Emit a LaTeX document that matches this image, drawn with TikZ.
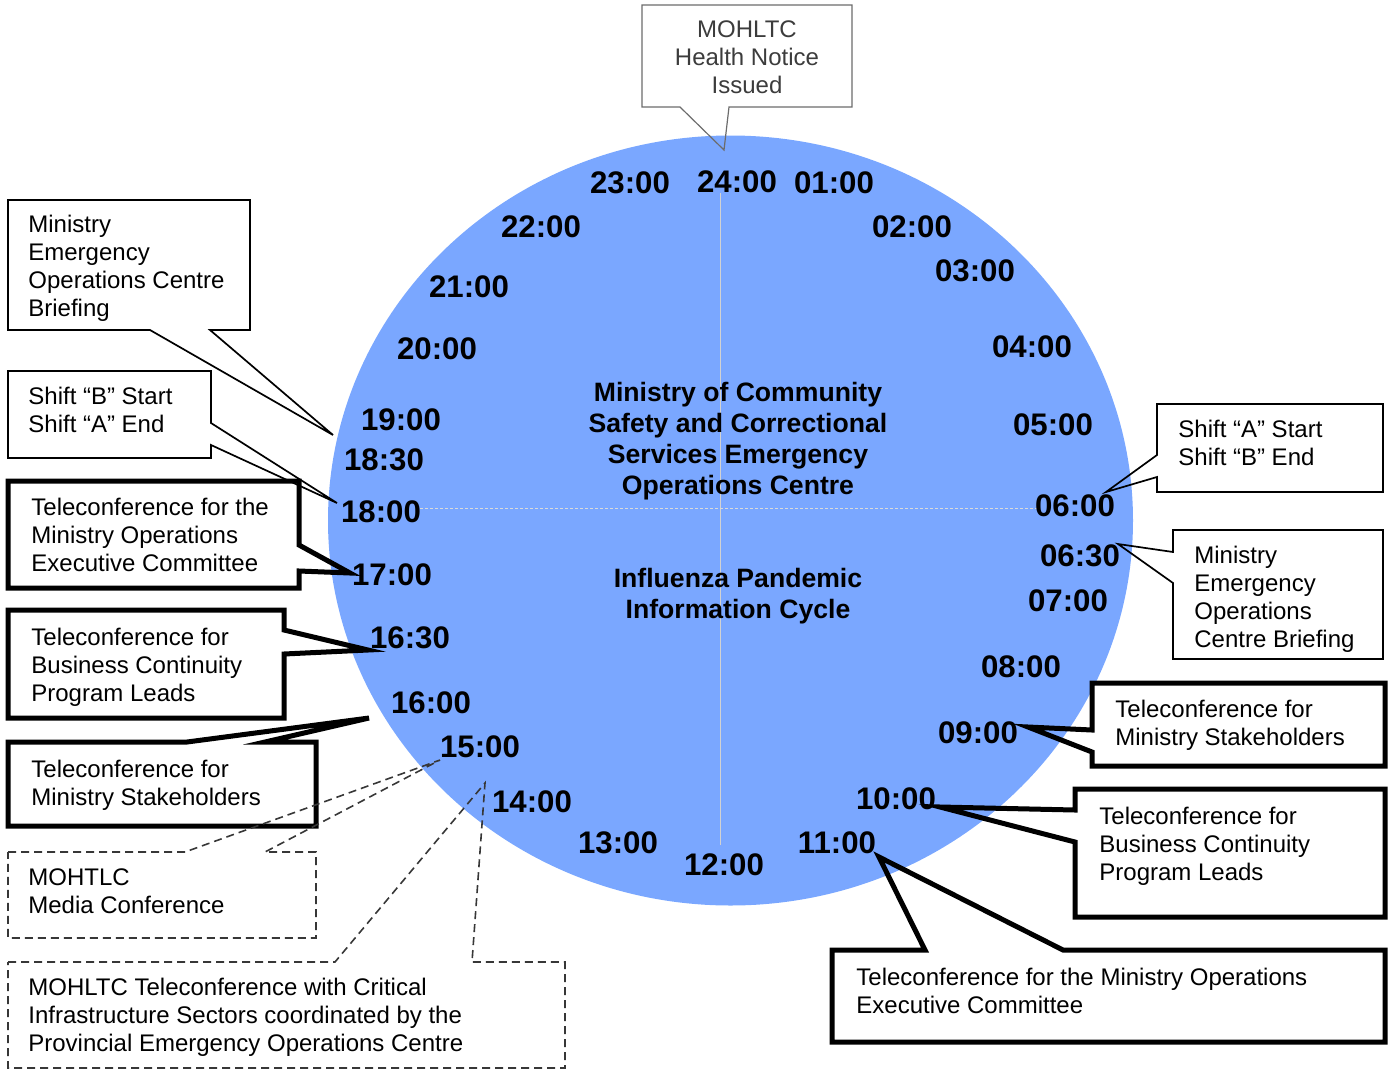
\documentclass[tikz,border=0pt]{standalone}
\usepackage{fontspec}
\setmainfont{Liberation Sans}
\definecolor{dialblue}{RGB}{122,167,255}
\definecolor{notegray}{RGB}{60,60,60}
\definecolor{dashgray}{RGB}{55,55,55}
\begin{document}
\begin{tikzpicture}[x=0.5pt,y=-0.5pt,
  thinbox/.style={draw=black,line width=0.85pt,line join=miter},
  thickbox/.style={draw=black,line width=2.5pt,line join=miter},
  dashbox/.style={draw=dashgray,line width=0.8pt,dash pattern=on 4pt off 2.5pt},
  greybox/.style={draw=gray!85!black,line width=0.6pt},
  txt/.style={font=\fontsize{12}{14}\selectfont,align=left,anchor=north west,inner sep=0pt},
  hour/.style={font=\fontsize{15.6}{18}\selectfont\bfseries,inner sep=0pt},
  title/.style={font=\fontsize{13.3}{15.5}\selectfont\bfseries,align=center,anchor=north,inner sep=0pt}]
\useasboundingbox (0,0) rectangle (1393,1072);
% dial
\fill[dialblue] (730.5,520.5) ellipse [x radius=402.5,y radius=385];
\draw[gray!35,line width=0.5pt] (720,193) -- (720,845);
\draw[gray!30,line width=0.5pt,dash pattern=on 1.5pt off 1pt] (420,508) -- (1040,508);
% centre titles
\node[title] (centre) at (738,374) {\rule{0pt}{13.3pt}Ministry of Community\\Safety and Correctional\\Services Emergency\\Operations Centre};
\node[title] (cycle) at (738,560) {\rule{0pt}{13.3pt}Influenza Pandemic\\Information Cycle};
% callouts
\draw[greybox] (642,5) -- (852,5) -- (852,107) -- (729,107) -- (724,150) -- (680,107) -- (642,107) -- cycle;
\node[txt,align=center,anchor=north,text=notegray] (notice) at (747,12.6) {\rule{0pt}{12pt}MOHLTC\\Health Notice\\Issued};
\draw[thinbox] (8,200) -- (250,200) -- (250,330) -- (210,330) -- (333,435) -- (150,330) -- (8,330) -- cycle;
\node[txt] (meocl) at (28,207.6) {\rule{0pt}{12pt}Ministry\\Emergency\\Operations Centre\\Briefing};
\draw[thinbox] (8,371) -- (211,371) -- (211,423) -- (337,503) -- (211,445) -- (211,458) -- (8,458) -- cycle;
\node[txt] (shiftb) at (28,379.6) {\rule{0pt}{12pt}Shift “B” Start\\Shift “A” End};
\draw[thickbox] (8,481) -- (299,481) -- (299,545) -- (350,573) -- (299,571) -- (299,588) -- (8,588) -- cycle;
\node[txt] (moecl) at (31,490.6) {\rule{0pt}{12pt}Teleconference for the\\Ministry Operations\\Executive Committee};
\draw[thickbox] (8,610) -- (284,610) -- (284,630) -- (368,650) -- (284,654) -- (284,718) -- (8,718) -- cycle;
\node[txt] (bcpll) at (31,620.6) {\rule{0pt}{12pt}Teleconference for\\Business Continuity\\Program Leads};
\draw[thickbox] (8,742) -- (187,742) -- (369,718) -- (265,742) -- (316,742) -- (316,826) -- (8,826) -- cycle;
\node[txt] (msl) at (31,752.6) {\rule{0pt}{12pt}Teleconference for\\Ministry Stakeholders};
\draw[dashbox] (8,852) -- (185,852) -- (440,760) -- (265,852) -- (316,852) -- (316,938) -- (8,938) -- cycle;
\node[txt] (media) at (28,860.6) {\rule{0pt}{12pt}MOHTLC\\Media Conference};
\draw[dashbox] (8,962) -- (335,962) -- (485,783) -- (472,962) -- (565,962) -- (565,1068) -- (8,1068) -- cycle;
\node[txt] (cis) at (28,970.6) {\rule{0pt}{12pt}MOHLTC Teleconference with Critical\\Infrastructure Sectors coordinated by the\\Provincial Emergency Operations Centre};
\draw[thinbox] (1157,404) -- (1383,404) -- (1383,492) -- (1157,492) -- (1157,477) -- (1106,492) -- (1157,455) -- cycle;
\node[txt] (shifta) at (1178,412.6) {\rule{0pt}{12pt}Shift “A” Start\\Shift “B” End};
\draw[thinbox] (1173,530) -- (1383,530) -- (1383,659) -- (1173,659) -- (1173,583) -- (1118,544) -- (1173,552) -- cycle;
\node[txt] (meocr) at (1194,538.6) {\rule{0pt}{12pt}Ministry\\Emergency\\Operations\\Centre Briefing};
\draw[thickbox] (1092,683) -- (1385,683) -- (1385,766) -- (1092,766) -- (1092,752) -- (1028,727) -- (1092,730) -- cycle;
\node[txt] (msr) at (1115,692.6) {\rule{0pt}{12pt}Teleconference for\\Ministry Stakeholders};
\draw[thickbox] (1075,789) -- (1385,789) -- (1385,917) -- (1075,917) -- (1075,842) -- (940,807) -- (1075,810) -- cycle;
\node[txt] (bcplr) at (1099,799.6) {\rule{0pt}{12pt}Teleconference for\\Business Continuity\\Program Leads};
\draw[thickbox] (832,950) -- (925,950) -- (879,857) -- (1063,950) -- (1385,950) -- (1385,1042) -- (832,1042) -- cycle;
\node[txt] (moecr) at (856,960.6) {\rule{0pt}{12pt}Teleconference for the Ministry Operations\\Executive Committee};
% hours
\node[hour] (h23) at (630,183) {23:00};
\node[hour] (h24) at (737,182) {24:00};
\node[hour] (h01) at (834,183) {01:00};
\node[hour] (h02) at (912,227) {02:00};
\node[hour] (h22) at (541,227) {22:00};
\node[hour] (h03) at (975,271) {03:00};
\node[hour] (h21) at (469,287) {21:00};
\node[hour] (h04) at (1032,347) {04:00};
\node[hour] (h20) at (437,349) {20:00};
\node[hour] (h19) at (401,420) {19:00};
\node[hour] (h05) at (1053,425) {05:00};
\node[hour] (h1830) at (384,460) {18:30};
\node[hour] (h18) at (381,512) {18:00};
\node[hour] (h06) at (1075,506) {06:00};
\node[hour] (h0630) at (1080,556) {06:30};
\node[hour] (h17) at (392,575) {17:00};
\node[hour] (h07) at (1068,601) {07:00};
\node[hour] (h1630) at (410,638) {16:30};
\node[hour] (h08) at (1021,667) {08:00};
\node[hour] (h16) at (431,703) {16:00};
\node[hour] (h09) at (978,733) {09:00};
\node[hour] (h15) at (480,747) {15:00};
\node[hour] (h14) at (532,802) {14:00};
\node[hour] (h10) at (896,799) {10:00};
\node[hour] (h13) at (618,843) {13:00};
\node[hour] (h11) at (837,843) {11:00};
\node[hour] (h12) at (724,865) {12:00};
\end{tikzpicture}
\end{document}
